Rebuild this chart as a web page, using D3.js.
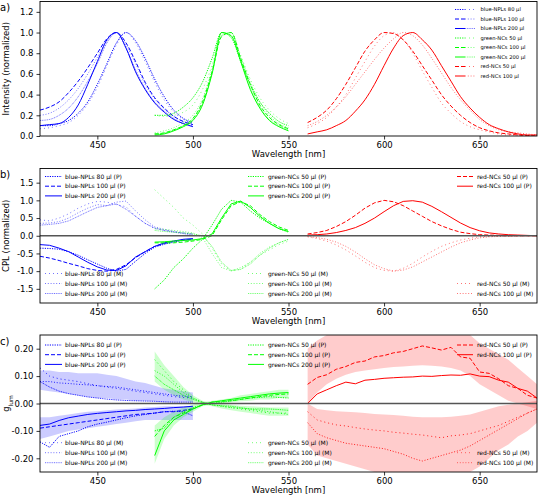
<!DOCTYPE html>
<html>
<head>
<meta charset="utf-8">
<script src="https://cdn.jsdelivr.net/npm/d3@7"></script>
<style>
body { margin: 0; background: #fff; }
text { font-family: "DejaVu Sans", sans-serif; fill: #000; }
</style>
</head>
<body>
<svg width="538" height="496"></svg>
<script>
// wavelength grids (nm)
var blueWl = [420,425,430,435,440,445,450,455,460,465,470,475,480,485,490,495,500];
var greenWl = [480,485,490,495,500,505,510,515,520,525,530,535,540,545,550];
var redWl = [560,565,570,575,580,585,590,595,600,605,610,615,620,625,630,635,640,645,650,655,660,665,670,675,680];
var xTicks = [450, 500, 550, 600, 650];

// a) normalized intensity
var aBlue80P  = [0.10,0.10,0.12,0.15,0.22,0.33,0.50,0.70,0.90,1.00,0.92,0.75,0.55,0.38,0.25,0.17,0.13];
var aBlue80M  = [0.07,0.08,0.10,0.13,0.20,0.31,0.47,0.68,0.88,1.00,0.90,0.72,0.52,0.35,0.23,0.16,0.12];
var aBlue100P = [0.25,0.28,0.33,0.42,0.53,0.66,0.80,0.94,1.00,0.90,0.72,0.52,0.37,0.27,0.19,0.14,0.11];
var aBlue100M = [0.20,0.22,0.27,0.35,0.46,0.60,0.76,0.92,1.00,0.88,0.70,0.50,0.36,0.26,0.19,0.14,0.12];
var aBlue200P = [0.10,0.11,0.12,0.18,0.30,0.50,0.72,0.93,1.00,0.85,0.62,0.45,0.32,0.23,0.16,0.12,0.09];
var aBlue200M = [0.15,0.16,0.20,0.27,0.38,0.53,0.70,0.90,1.00,0.85,0.64,0.46,0.33,0.24,0.17,0.12,0.10];
var aGreen50P  = [0.20,0.20,0.22,0.28,0.37,0.52,0.75,1.00,0.95,0.72,0.50,0.33,0.22,0.14,0.10];
var aGreen50M  = [0.20,0.19,0.20,0.23,0.30,0.45,0.68,0.97,1.00,0.78,0.55,0.37,0.25,0.17,0.12];
var aGreen100P = [0.02,0.03,0.06,0.10,0.17,0.33,0.62,0.96,1.00,0.75,0.50,0.30,0.18,0.11,0.07];
var aGreen100M = [0.03,0.05,0.08,0.13,0.20,0.36,0.65,1.00,0.96,0.76,0.52,0.33,0.20,0.12,0.08];
var aGreen200P = [0.01,0.02,0.05,0.09,0.15,0.30,0.60,1.00,0.97,0.72,0.45,0.27,0.15,0.09,0.05];
var aGreen200M = [0.02,0.03,0.06,0.10,0.16,0.31,0.61,0.97,1.00,0.74,0.47,0.28,0.16,0.10,0.06];
var aRed50P  = [0.13,0.18,0.25,0.36,0.50,0.66,0.82,0.93,1.00,0.99,0.93,0.82,0.68,0.54,0.40,0.29,0.20,0.13,0.08,0.05,0.03,0.02,0.01,0.005,0.0];
var aRed50M  = [0.08,0.12,0.18,0.28,0.40,0.56,0.72,0.87,0.97,1.00,0.93,0.80,0.63,0.47,0.32,0.22,0.14,0.09,0.06,0.04,0.02,0.01,0.01,0.0,0.0];
var aRed100P = [0.02,0.04,0.06,0.10,0.15,0.24,0.35,0.50,0.68,0.85,0.97,1.00,0.93,0.83,0.68,0.53,0.38,0.27,0.18,0.11,0.07,0.04,0.02,0.01,0.01];
var aRed100M = [0.10,0.14,0.20,0.28,0.38,0.50,0.62,0.74,0.85,0.94,1.00,0.97,0.88,0.75,0.61,0.47,0.35,0.25,0.16,0.10,0.06,0.04,0.03,0.02,0.01];

// b) normalized CPL
var bBlue80P  = [-0.35,-0.36,-0.38,-0.45,-0.55,-0.68,-0.80,-0.92,-1.00,-0.95,-0.72,-0.50,-0.32,-0.24,-0.18,-0.13,-0.10];
var bBlue100P = [-0.58,-0.63,-0.70,-0.78,-0.85,-0.93,-0.98,-1.00,-0.95,-0.82,-0.62,-0.45,-0.30,-0.22,-0.15,-0.12,-0.10];
var bBlue200P = [-0.25,-0.27,-0.35,-0.45,-0.60,-0.75,-0.88,-0.97,-0.98,-0.85,-0.60,-0.45,-0.30,-0.20,-0.15,-0.10,-0.08];
var bBlue80M  = [0.45,0.42,0.50,0.62,0.78,0.90,0.97,0.95,0.88,0.82,0.55,0.35,0.20,0.15,0.12,0.08,0.05];
var bBlue100M = [0.35,0.36,0.40,0.50,0.65,0.78,0.88,0.85,0.95,0.98,0.70,0.45,0.25,0.18,0.12,0.08,0.05];
var bBlue200M = [0.30,0.32,0.35,0.42,0.55,0.68,0.80,0.85,0.90,0.75,0.55,0.35,0.22,0.15,0.10,0.06,0.02];
var bGreen50P  = [-1.50,-1.25,-0.90,-0.65,-0.35,-0.10,0.30,0.75,1.00,0.95,0.70,0.50,0.35,0.20,0.10];
var bGreen100P = [-0.20,-0.20,-0.20,-0.18,-0.15,-0.10,0.00,0.45,0.85,0.96,0.85,0.60,0.40,0.25,0.15];
var bGreen200P = [-0.18,-0.17,-0.15,-0.13,-0.12,-0.08,0.05,0.50,0.90,0.98,0.80,0.55,0.35,0.20,0.12];
var bGreen50M  = [1.30,1.05,0.80,0.50,0.30,0.05,-0.35,-0.80,-1.00,-0.95,-0.75,-0.55,-0.40,-0.25,-0.15];
var bGreen100M = [0.20,0.18,0.15,0.12,0.08,-0.05,-0.50,-0.90,-0.99,-0.90,-0.75,-0.50,-0.32,-0.20,-0.10];
var bGreen200M = [0.15,0.12,0.10,0.08,0.05,0.00,-0.30,-0.75,-0.98,-0.95,-0.80,-0.55,-0.35,-0.20,-0.10];
var bRed50P  = [0.05,0.09,0.15,0.26,0.40,0.58,0.78,0.93,1.00,0.96,0.85,0.70,0.55,0.40,0.28,0.18,0.10,0.06,0.03,0.02,0.01,0.0,0.0,0.0,0.0];
var bRed100P = [0.02,0.03,0.05,0.09,0.15,0.23,0.35,0.50,0.68,0.85,0.97,0.99,0.95,0.83,0.68,0.52,0.36,0.23,0.14,0.08,0.05,0.03,0.02,0.01,0.0];
var bRed50M  = [-0.03,-0.08,-0.15,-0.26,-0.40,-0.57,-0.75,-0.90,-0.98,-1.00,-0.92,-0.78,-0.60,-0.44,-0.30,-0.20,-0.12,-0.07,-0.03,-0.02,-0.01,-0.01,0.0,0.0,0.0];
var bRed100M = [-0.02,-0.05,-0.10,-0.18,-0.30,-0.46,-0.65,-0.82,-0.93,-1.00,-0.97,-0.88,-0.74,-0.60,-0.46,-0.32,-0.20,-0.12,-0.06,-0.03,-0.02,-0.01,0.0,0.0,0.0];

// c) g_lum
var cBlue80P  = [-0.14,-0.16,-0.12,-0.11,-0.10,-0.085,-0.075,-0.068,-0.06,-0.052,-0.045,-0.04,-0.035,-0.03,-0.028,-0.03,-0.045];
var cBlue100P = [-0.09,-0.085,-0.08,-0.075,-0.07,-0.065,-0.06,-0.055,-0.05,-0.045,-0.04,-0.038,-0.035,-0.03,-0.03,-0.025,-0.02];
var cBlue200P = [-0.08,-0.075,-0.062,-0.052,-0.046,-0.04,-0.036,-0.033,-0.03,-0.027,-0.025,-0.022,-0.02,-0.018,-0.015,-0.013,-0.01];
var cBlue80M  = [0.13,0.10,0.09,0.085,0.08,0.072,0.065,0.06,0.055,0.05,0.045,0.04,0.035,0.03,0.025,0.022,0.02];
var cBlue100M = [0.08,0.08,0.075,0.073,0.07,0.068,0.065,0.062,0.06,0.055,0.05,0.045,0.04,0.035,0.03,0.027,0.025];
var cBlue200M = [0.08,0.06,0.045,0.036,0.03,0.024,0.02,0.016,0.013,0.011,0.01,0.009,0.008,0.006,0.005,0.005,0.005];
var cBlueBandPTop = [-0.05,-0.05,-0.045,-0.04,-0.035,-0.03,-0.028,-0.025,-0.022,-0.02,-0.018,-0.015,-0.013,-0.01,-0.01,-0.01,-0.01];
var cBlueBandPBot = [-0.13,-0.12,-0.11,-0.10,-0.095,-0.09,-0.085,-0.08,-0.075,-0.07,-0.065,-0.06,-0.06,-0.06,-0.06,-0.06,-0.06];
var cBlueBandMTop = [0.12,0.12,0.115,0.115,0.11,0.11,0.11,0.105,0.10,0.09,0.08,0.075,0.065,0.055,0.05,0.045,0.04];
var cBlueBandMBot = [0.05,0.045,0.04,0.035,0.03,0.025,0.02,0.02,0.015,0.015,0.01,0.01,0.008,0.005,0.005,0.005,0.005];
var cGreen50P  = [-0.10,-0.09,-0.05,-0.03,-0.015,-0.005,0.0,0.005,0.01,0.015,0.02,0.022,0.025,0.022,0.02];
var cGreen100P = [-0.12,-0.08,-0.05,-0.035,-0.02,-0.005,0.005,0.008,0.01,0.015,0.02,0.025,0.03,0.033,0.035];
var cGreen200P = [-0.19,-0.10,-0.06,-0.04,-0.02,-0.005,0.005,0.01,0.015,0.02,0.025,0.03,0.035,0.038,0.04];
var cGreen50M  = [0.16,0.12,0.08,0.05,0.02,0.005,-0.005,-0.01,-0.015,-0.02,-0.025,-0.03,-0.035,-0.035,-0.035];
var cGreen100M = [0.12,0.10,0.07,0.04,0.02,0.005,-0.005,-0.01,-0.015,-0.018,-0.02,-0.025,-0.03,-0.035,-0.04];
var cGreen200M = [0.10,0.07,0.05,0.03,0.015,0.003,-0.005,-0.008,-0.01,-0.015,-0.02,-0.02,-0.02,-0.022,-0.025];
var cGreenBandPTop = [-0.08,-0.05,-0.03,-0.015,-0.005,0.005,0.01,0.015,0.02,0.03,0.035,0.04,0.045,0.05,0.05];
var cGreenBandPBot = [-0.22,-0.13,-0.08,-0.05,-0.03,-0.01,-0.005,0.0,0.005,0.008,0.01,0.015,0.015,0.02,0.02];
var cGreenBandMTop = [0.19,0.14,0.10,0.06,0.03,0.01,0.0,-0.002,-0.005,-0.008,-0.01,-0.012,-0.015,-0.015,-0.015];
var cGreenBandMBot = [0.08,0.05,0.03,0.015,0.005,-0.002,-0.01,-0.018,-0.025,-0.03,-0.035,-0.04,-0.045,-0.045,-0.045];
var cRed50P  = [0.07,0.095,0.105,0.125,0.135,0.15,0.155,0.17,0.175,0.185,0.19,0.20,0.21,0.203,0.195,0.205,0.17,0.165,0.115,0.11,0.09,0.065,0.055,0.03,0.02];
var cRed100P = [0.0,0.035,0.05,0.065,0.078,0.072,0.085,0.088,0.092,0.094,0.096,0.097,0.10,0.099,0.102,0.104,0.103,0.108,0.10,0.098,0.085,0.078,0.055,0.045,0.02];
var cRed50M  = [-0.03,-0.06,-0.07,-0.078,-0.082,-0.088,-0.093,-0.097,-0.10,-0.105,-0.108,-0.112,-0.115,-0.12,-0.125,-0.118,-0.115,-0.11,-0.10,-0.09,-0.08,-0.065,-0.05,-0.035,-0.02];
var cRed100M = [-0.07,-0.11,-0.125,-0.135,-0.145,-0.15,-0.155,-0.16,-0.165,-0.175,-0.185,-0.20,-0.21,-0.20,-0.19,-0.18,-0.17,-0.155,-0.135,-0.115,-0.095,-0.075,-0.055,-0.035,-0.02];
var cRedBandPTop = [0.20,0.23,0.25,0.27,0.28,0.28,0.28,0.28,0.28,0.28,0.28,0.28,0.28,0.28,0.28,0.28,0.27,0.25,0.22,0.20,0.18,0.16,0.13,0.10,0.07];
var cRedBandPBot = [0.0,0.04,0.07,0.09,0.105,0.115,0.12,0.125,0.13,0.133,0.135,0.138,0.14,0.138,0.135,0.13,0.12,0.10,0.07,0.05,0.03,0.01,0.0,-0.01,-0.02];
var cRedBandMTop = [0.0,-0.02,-0.025,-0.028,-0.03,-0.032,-0.035,-0.038,-0.04,-0.042,-0.045,-0.048,-0.05,-0.05,-0.05,-0.048,-0.045,-0.04,-0.03,-0.02,-0.01,-0.005,0.0,0.005,0.01];
var cRedBandMBot = [-0.15,-0.19,-0.20,-0.21,-0.22,-0.23,-0.24,-0.25,-0.27,-0.28,-0.28,-0.28,-0.28,-0.28,-0.28,-0.28,-0.27,-0.25,-0.23,-0.20,-0.17,-0.15,-0.12,-0.10,-0.07];

var BLUE = "#0000ff", GREEN = "#00ff00", RED = "#ff0000";
var dashP = {a: "1.2,1.2", b: "4,2", c: null};
var dashM = {a: "1,3", b: "1,1.8", c: "1,0.8"};

var svg = d3.select("svg");
var x = d3.scaleLinear().domain([420, 680]).range([40, 537]);

var panels = [
    {top: 1.5, bottom: 136, dom: [0, 1.3], ticks: [0, 0.2, 0.4, 0.6, 0.8, 1.0, 1.2], dec: 1, letter: "a)", curve: d3.curveMonotoneX, mOp: 0.55},
    {top: 168.5, bottom: 303, dom: [-1.9, 1.9], ticks: [-1.5, -1.0, -0.5, 0, 0.5, 1.0, 1.5], dec: 1, letter: "b)", curve: d3.curveLinear, mOp: 0.55, zero: true},
    {top: 335, bottom: 472, dom: [-0.25, 0.25], ticks: [-0.2, -0.1, 0, 0.1, 0.2], dec: 2, letter: "c)", curve: d3.curveLinear, mOp: 0.85, zero: true}
];

// series of each panel: [grid, values, colour, style key, P or M]
var seriesA = [
    [blueWl, aBlue80P, BLUE, "a", "P"], [blueWl, aBlue80M, BLUE, "a", "M"],
    [blueWl, aBlue100P, BLUE, "b", "P"], [blueWl, aBlue100M, BLUE, "b", "M"],
    [blueWl, aBlue200P, BLUE, "c", "P"], [blueWl, aBlue200M, BLUE, "c", "M"],
    [greenWl, aGreen50P, GREEN, "a", "P"], [greenWl, aGreen50M, GREEN, "a", "M"],
    [greenWl, aGreen100P, GREEN, "b", "P"], [greenWl, aGreen100M, GREEN, "b", "M"],
    [greenWl, aGreen200P, GREEN, "c", "P"], [greenWl, aGreen200M, GREEN, "c", "M"],
    [redWl, aRed50P, RED, "b", "P"], [redWl, aRed50M, RED, "a", "M"],
    [redWl, aRed100P, RED, "c", "P"], [redWl, aRed100M, RED, "b", "M"]
];
var seriesB = [
    [blueWl, bBlue80P, BLUE, "a", "P"], [blueWl, bBlue100P, BLUE, "b", "P"], [blueWl, bBlue200P, BLUE, "c", "P"],
    [blueWl, bBlue80M, BLUE, "a", "M"], [blueWl, bBlue100M, BLUE, "b", "M"], [blueWl, bBlue200M, BLUE, "c", "M"],
    [greenWl, bGreen50P, GREEN, "a", "P"], [greenWl, bGreen100P, GREEN, "b", "P"], [greenWl, bGreen200P, GREEN, "c", "P"],
    [greenWl, bGreen50M, GREEN, "a", "M"], [greenWl, bGreen100M, GREEN, "b", "M"], [greenWl, bGreen200M, GREEN, "c", "M"],
    [redWl, bRed50P, RED, "b", "P"], [redWl, bRed100P, RED, "c", "P"],
    [redWl, bRed50M, RED, "a", "M"], [redWl, bRed100M, RED, "b", "M"]
];
var seriesC = [
    [blueWl, cBlue80P, BLUE, "a", "P"], [blueWl, cBlue100P, BLUE, "b", "P"], [blueWl, cBlue200P, BLUE, "c", "P"],
    [blueWl, cBlue80M, BLUE, "a", "M"], [blueWl, cBlue100M, BLUE, "b", "M"], [blueWl, cBlue200M, BLUE, "c", "M"],
    [greenWl, cGreen50P, GREEN, "a", "P"], [greenWl, cGreen100P, GREEN, "b", "P"], [greenWl, cGreen200P, GREEN, "c", "P"],
    [greenWl, cGreen50M, GREEN, "a", "M"], [greenWl, cGreen100M, GREEN, "b", "M"], [greenWl, cGreen200M, GREEN, "c", "M"],
    [redWl, cRed50P, RED, "b", "P"], [redWl, cRed100P, RED, "c", "P"],
    [redWl, cRed50M, RED, "a", "M"], [redWl, cRed100M, RED, "b", "M"]
];
var bandsC = [
    [blueWl, cBlueBandPTop, cBlueBandPBot, BLUE], [blueWl, cBlueBandMTop, cBlueBandMBot, BLUE],
    [greenWl, cGreenBandPTop, cGreenBandPBot, GREEN], [greenWl, cGreenBandMTop, cGreenBandMBot, GREEN],
    [redWl, cRedBandPTop, cRedBandPBot, RED], [redWl, cRedBandMTop, cRedBandMBot, RED]
];
var allSeries = [seriesA, seriesB, seriesC];

panels.forEach(function (p, i) {
    var y = d3.scaleLinear().domain(p.dom).range([p.bottom, p.top]);
    var g = svg.append("g");

    g.append("clipPath").attr("id", "clip" + i)
        .append("rect").attr("x", 40).attr("y", p.top).attr("width", 497).attr("height", p.bottom - p.top);
    var plot = g.append("g").attr("clip-path", "url(#clip" + i + ")");

    if (i == 2) {
        bandsC.forEach(function (b) {
            var area = d3.area()
                .x(function (d, k) { return x(b[0][k]); })
                .y0(function (d, k) { return y(b[2][k]); })
                .y1(function (d) { return y(d); });
            plot.append("path").datum(b[1])
                .attr("d", area)
                .attr("fill", b[3])
                .attr("fill-opacity", 0.2);
        });
    }

    allSeries[i].forEach(function (s) {
        var line = d3.line()
            .x(function (d, k) { return x(s[0][k]); })
            .y(function (d) { return y(d); })
            .curve(p.curve);
        plot.append("path").datum(s[1])
            .attr("d", line)
            .attr("fill", "none")
            .attr("stroke", s[2])
            .attr("stroke-width", 1)
            .attr("stroke-opacity", s[4] == "M" ? p.mOp : 1)
            .attr("stroke-dasharray", s[4] == "M" ? dashM[s[3]] : dashP[s[3]]);
    });

    if (p.zero) {
        plot.append("line")
            .attr("x1", 40).attr("x2", 537)
            .attr("y1", y(0)).attr("y2", y(0))
            .attr("stroke", "#555").attr("stroke-width", 1.5);
    }

    // axes
    var xa = g.append("g").attr("transform", "translate(0," + p.bottom + ")")
        .call(d3.axisBottom(x).tickValues(xTicks).tickSize(3.5).tickPadding(2));
    var ya = g.append("g").attr("transform", "translate(40,0)")
        .call(d3.axisLeft(y).tickValues(p.ticks).tickSize(3.5).tickPadding(3)
            .tickFormat(function (d) { return d.toFixed(p.dec); }));
    [xa, ya].forEach(function (a) {
        a.select(".domain").remove();
        a.selectAll("text").style("font-size", "8.5px").style("font-family", "DejaVu Sans");
        a.selectAll("line").attr("stroke", "#000").attr("stroke-width", 0.8);
    });

    g.append("rect")
        .attr("x", 40).attr("y", p.top)
        .attr("width", 497).attr("height", p.bottom - p.top)
        .attr("fill", "none").attr("stroke", "#000").attr("stroke-width", 0.9);

    g.append("text")
        .attr("x", 288.5).attr("y", p.bottom + 21)
        .attr("text-anchor", "middle")
        .style("font-size", "8.5px")
        .text("Wavelength [nm]");

    g.append("text")
        .attr("x", 0).attr("y", p.top + 9.5)
        .style("font-size", "10px")
        .text(p.letter);

    var yl = g.append("text")
        .attr("transform", "translate(9," + ((p.top + p.bottom) / 2) + ") rotate(-90)")
        .attr("text-anchor", "middle")
        .style("font-size", "8.5px");
    if (i == 0) yl.text("Intensity (normalized)");
    if (i == 1) yl.text("CPL (normalized)");
    if (i == 2) {
        yl.append("tspan").text("g");
        yl.append("tspan").attr("baseline-shift", "sub").style("font-size", "6px").text("lum");
    }
});

// legends
function legend(rows, hx, hw, tx, ys, fs, two) {
    var g = svg.append("g");
    rows.forEach(function (r, k) {
        var yy = ys[k];
        if (two) {
            g.append("line").attr("x1", hx).attr("x2", hx + hw / 2).attr("y1", yy).attr("y2", yy)
                .attr("stroke", r[1]).attr("stroke-width", 1).attr("stroke-dasharray", dashP[r[2]]);
            g.append("line").attr("x1", hx + hw / 2).attr("x2", hx + hw).attr("y1", yy).attr("y2", yy)
                .attr("stroke", r[1]).attr("stroke-width", 1).attr("stroke-opacity", 0.55).attr("stroke-dasharray", dashM[r[3]]);
        } else {
            g.append("line").attr("x1", hx).attr("x2", hx + hw).attr("y1", yy).attr("y2", yy)
                .attr("stroke", r[1]).attr("stroke-width", 1)
                .attr("stroke-opacity", r[3] == "M" ? 0.55 : 1)
                .attr("stroke-dasharray", r[3] == "M" ? dashM[r[2]] : dashP[r[2]]);
        }
        g.append("text").attr("x", tx).attr("y", yy).attr("dy", "0.35em")
            .style("font-size", fs + "px").text(r[0]);
    });
}

var legA = [
    ["blue-NPLs 80 µl", BLUE, "a", "a"], ["blue-NPLs 100 µl", BLUE, "b", "b"], ["blue-NPLs 200 µl", BLUE, "c", "c"],
    ["green-NCs 50 µl", GREEN, "a", "a"], ["green-NCs 100 µl", GREEN, "b", "b"], ["green-NCs 200 µl", GREEN, "c", "c"],
    ["red-NCs 50 µl", RED, "b", "a"], ["red-NCs 100 µl", RED, "c", "b"]
];
legend(legA, 455, 20, 480.5, [9.5, 19, 28.5, 38, 47.5, 57, 66.5, 76], 5.2, true);

var bluePLeg = [["blue-NPLs 80 µl (P)", BLUE, "a", "P"], ["blue-NPLs 100 µl (P)", BLUE, "b", "P"], ["blue-NPLs 200 µl (P)", BLUE, "c", "P"]];
var blueMLeg = [["blue-NPLs 80 µl (M)", BLUE, "a", "M"], ["blue-NPLs 100 µl (M)", BLUE, "b", "M"], ["blue-NPLs 200 µl (M)", BLUE, "c", "M"]];
var greenPLeg = [["green-NCs 50 µl (P)", GREEN, "a", "P"], ["green-NCs 100 µl (P)", GREEN, "b", "P"], ["green-NCs 200 µl (P)", GREEN, "c", "P"]];
var greenMLeg = [["green-NCs 50 µl (M)", GREEN, "a", "M"], ["green-NCs 100 µl (M)", GREEN, "b", "M"], ["green-NCs 200 µl (M)", GREEN, "c", "M"]];
var redPLeg = [["red-NCs 50 µl (P)", RED, "b", "P"], ["red-NCs 100 µl (P)", RED, "c", "P"]];
var redMLeg = [["red-NCs 50 µl (M)", RED, "a", "M"], ["red-NCs 100 µl (M)", RED, "b", "M"]];

var legTops = [176.5, 345];
var legBots = [273.5, 442.7];
legTops.forEach(function (t, k) {
    var b = legBots[k];
    legend(bluePLeg, 45, 17, 65, [t, t + 9.7, t + 19.4], 6, false);
    legend(blueMLeg, 45, 17, 65, [b, b + 10, b + 20], 6, false);
    legend(greenPLeg, 248, 16, 268, [t, t + 9.7, t + 19.4], 6, false);
    legend(greenMLeg, 248, 16, 268, [b, b + 10, b + 20], 6, false);
    legend(redPLeg, 457, 16, 477, [t, t + 9.7], 6, false);
    legend(redMLeg, 457, 16, 477, [b + 10, b + 20], 6, false);
});
</script>
</body>
</html>
